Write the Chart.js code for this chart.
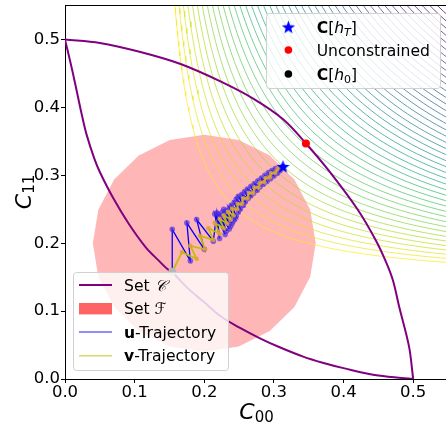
<!DOCTYPE html>
<html><head><meta charset="utf-8">
<script src="https://cdn.jsdelivr.net/npm/chart.js@4.4.0/dist/chart.umd.min.js"></script>
<style>
html,body{margin:0;padding:0;overflow:hidden;background:#fff;width:446px;height:427px}
#wrap{position:absolute;left:0;top:0;width:453px;height:427px}
</style>
</head><body><div id="wrap"><canvas id="c" width="453" height="427"></canvas></div>
<script>
// ---------------- data ----------------
const X_TICKS = [0, 0.1, 0.2, 0.3, 0.4, 0.5];
const Y_TICKS = [0, 0.1, 0.2, 0.3, 0.4, 0.5];
const X_RANGE = [0, 0.55];
const Y_RANGE = [0, 0.551];

// Set C : outer arc and inner boundary (two pieces meeting at C[h0])
const SET_C_OUTER = [[0,0.5],[0.05,0.495],[0.107,0.482],[0.166,0.464],[0.224,0.438],[0.272,0.412],[0.314,0.382],[0.346,0.347],[0.378,0.308],[0.42,0.25],[0.447,0.203],[0.462,0.17],[0.471,0.145],[0.48,0.106],[0.494,0.048],[0.5,0]];
const SET_C_INNER_UPPER = [[0,0.5],[0.007,0.47],[0.014,0.438],[0.024,0.39],[0.031,0.36],[0.042,0.325],[0.05,0.305],[0.069,0.267],[0.092,0.228],[0.116,0.194],[0.135,0.174],[0.147,0.162],[0.154,0.158]];
const SET_C_INNER_LOWER = [[0.154,0.158],[0.175,0.135],[0.2,0.113],[0.224,0.092],[0.25,0.076],[0.28,0.06],[0.31,0.046],[0.342,0.033],[0.37,0.024],[0.4,0.016],[0.45,0.005],[0.5,0]];

// Set F : disc (drawn as the 20-gon seen in the picture)
const F_CENTER = [0.2, 0.2];
const F_RADIUS = 0.16;
const F_SIDES = 20;

// trajectories
const U_TRAJ = [[0.154,0.158],[0.154,0.2205],[0.180,0.174],[0.175,0.230],[0.200,0.191],[0.189,0.235],[0.213,0.203],[0.218,0.245],[0.222,0.207],[0.215,0.243],[0.230,0.213],[0.220,0.243],[0.232,0.218],[0.224,0.240],[0.236,0.221],[0.226,0.246],[0.238,0.225],[0.229,0.243],[0.240,0.229],[0.228,0.250],[0.242,0.233],[0.232,0.248],[0.244,0.236],[0.236,0.252],
  [0.246,0.240],[0.239,0.256],[0.249,0.246],[0.243,0.260],[0.252,0.251],[0.246,0.265],[0.256,0.256],[0.249,0.269],[0.259,0.261],[0.254,0.272],[0.263,0.266],[0.258,0.276],[0.267,0.270],[0.262,0.280],[0.271,0.274],[0.267,0.284],[0.276,0.278],[0.272,0.288],[0.280,0.283],[0.277,0.292],[0.285,0.287],[0.282,0.296],[0.290,0.291],[0.287,0.300],[0.295,0.295],[0.292,0.304],[0.300,0.299],[0.297,0.307],[0.305,0.303],[0.302,0.310],[0.309,0.307],[0.313,0.313]];
const V_TRAJ = [[0.154,0.158],[0.168,0.187],[0.189,0.177],[0.180,0.196],[0.201,0.191],[0.194,0.211],[0.213,0.205],[0.206,0.222],[0.222,0.214],[0.215,0.230],[0.228,0.222],[0.222,0.236],[0.233,0.229],[0.228,0.241],[0.238,0.235],[0.234,0.246],
  [0.242,0.241],[0.240,0.251],[0.247,0.250],[0.248,0.258],[0.254,0.258],[0.256,0.266],[0.262,0.266],[0.264,0.274],[0.270,0.274],[0.272,0.282],[0.278,0.282],[0.280,0.289],[0.286,0.290],[0.288,0.296],[0.294,0.297],[0.296,0.303],[0.302,0.304],[0.305,0.309],[0.311,0.311]];

// special points
const C_HT = [0.313, 0.313];
const UNCONSTRAINED = [0.346, 0.347];
const C_H0 = [0.154, 0.158];

// objective contours: level sets (x - P)(y - Q) = t^2, one t per drawn level (outer -> inner)
const CONTOUR_ORIGIN = [0.125, 0.14];
const CONTOUR_LEVELS = [0.1160,0.1262,0.1359,0.1454,0.1545,0.1634,0.1720,0.1805,0.1887,0.1968,0.2047,0.2124,0.2201,0.2275,0.2349,0.2421,0.2493,0.2563,0.2633,0.2701,0.2769,0.2836,0.2902,0.2967,0.3032,0.3096,0.3159,0.3222,0.3284,0.3346,0.3406,0.3467,0.3527,0.3586,0.3645,0.3703,0.3761,0.3819,0.3876,0.3932,0.3989,0.4045,0.4100];

// ---------------- helpers ----------------
const FONT = 'DejaVu Sans';
const VIRIDIS = ['#440154','#482475','#414487','#355f8d','#2a788e','#21918c','#22a884','#44bf70','#7ad151','#bddf26','#fde725'];
function hex(h){return [parseInt(h.slice(1,3),16),parseInt(h.slice(3,5),16),parseInt(h.slice(5,7),16)];}
function viridis(t, a){
  t = Math.max(0, Math.min(1, t));
  const f = t*10, i = Math.min(9, Math.floor(f)), u = f - i;
  const c0 = hex(VIRIDIS[i]), c1 = hex(VIRIDIS[i+1]);
  const c = c0.map((v,k)=>Math.round(v + (c1[k]-v)*u));
  return `rgba(${c[0]},${c[1]},${c[2]},${a})`;
}
const pts = arr => arr.map(p => ({x:p[0], y:p[1]}));

// points of one level curve (x-P)(y-Q)=t^2, parametrised by s
function levelCurve(t, n){
  const out = [];
  for (let i = 0; i <= n; i++){
    const s = -1.7 + 3.4*i/n;
    out.push({x: CONTOUR_ORIGIN[0] + t*Math.exp(s), y: CONTOUR_ORIGIN[1] + t*Math.exp(-s)});
  }
  return out;
}

function makeStar(size, color){
  const c = document.createElement('canvas');
  c.width = c.height = size;
  const g = c.getContext('2d');
  const cx = size/2, cy = size/2 + 0.6, R = size/2 - 0.5, r = R*0.42;
  g.beginPath();
  for (let i = 0; i < 10; i++){
    const a = -Math.PI/2 + i*Math.PI/5, rr = (i%2) ? r : R;
    g.lineTo(cx + rr*Math.cos(a), cy + rr*Math.sin(a));
  }
  g.closePath(); g.fillStyle = color; g.fill();
  return c;
}
const STAR = makeStar(15, '#0000ff');

// ---------------- datasets ----------------
const datasets = [];
datasets.push({label:'Unconstrained', data:pts([UNCONSTRAINED]), pointRadius:4, pointBackgroundColor:'#ff0000', pointBorderWidth:0, showLine:false});
datasets.push({label:'C[hT]', data:pts([C_HT]), pointStyle:STAR, showLine:false});
datasets.push({label:'C[h0]', data:pts([C_H0]), pointRadius:4, pointBackgroundColor:'#b8b8b8', pointBorderWidth:0, showLine:false});
datasets.push({label:'v-Trajectory', data:pts(V_TRAJ), showLine:true, borderColor:'rgba(191,191,0,0.95)', borderWidth:1.8,
  pointRadius:2.4, pointBackgroundColor:'rgba(222,160,60,0.8)', pointBorderWidth:0, tension:0});
datasets.push({label:'u-Trajectory', data:pts(U_TRAJ), showLine:true, borderColor:'rgba(0,0,255,1)', borderWidth:1.3,
  pointRadius:2.8, pointBackgroundColor:'rgba(70,40,230,0.65)', pointBorderWidth:0, tension:0});
[SET_C_OUTER, SET_C_INNER_UPPER, SET_C_INNER_LOWER].forEach(seg => {
  datasets.push({label:'Set C', data:pts(seg), showLine:true, borderColor:'#800080', borderWidth:2, pointRadius:0, tension:0.35});
});
const NL = CONTOUR_LEVELS.length;
CONTOUR_LEVELS.forEach((t, i) => {
  datasets.push({label:'contour', data:levelCurve(t, 160), showLine:true,
    borderColor:viridis(1 - i/(NL-1), 0.72), borderWidth:1, pointRadius:0, tension:0});
});
const fPoly = [];
for (let i = 0; i <= F_SIDES; i++){
  const a = Math.PI/2 + 2*Math.PI*i/F_SIDES;
  fPoly.push({x: F_CENTER[0] + F_RADIUS*Math.cos(a), y: F_CENTER[1] + F_RADIUS*Math.sin(a)});
}
datasets.push({label:'Set F', data:fPoly, showLine:true, borderWidth:0, borderColor:'rgba(0,0,0,0)',
  backgroundColor:'rgba(255,110,110,0.5)', fill:'shape', pointRadius:0, tension:0});

// ---------------- custom drawing (axis titles, spine, legends) ----------------
function rich(ctx, parts, x, base){
  for (const p of parts){
    ctx.font = p.font;
    ctx.fillText(p.t, x, base + (p.dy || 0));
    x += ctx.measureText(p.t).width;
  }
  return x;
}
function richWidth(ctx, parts){
  let w = 0;
  for (const p of parts){ ctx.font = p.font; w += ctx.measureText(p.t).width; }
  return w;
}
function roundRect(ctx, x, y, w, h, r){
  ctx.beginPath();
  ctx.moveTo(x + r, y);
  ctx.arcTo(x + w, y, x + w, y + h, r);
  ctx.arcTo(x + w, y + h, x, y + h, r);
  ctx.arcTo(x, y + h, x, y, r);
  ctx.arcTo(x, y, x + w, y, r);
  ctx.closePath();
}
const LFS = 15.6;
const LF = `${LFS}px ${FONT}`, LFB = `bold ${LFS}px ${FONT}`, LFI = `italic ${LFS}px ${FONT}`, LFS_SUB = `11px ${FONT}`, LFS_SUBI = `italic 11px ${FONT}`;

const decor = {
  id: 'decor',
  afterDraw(chart){
    const ctx = chart.ctx, ca = chart.chartArea;
    ctx.save();
    ctx.fillStyle = '#000';
    ctx.textBaseline = 'alphabetic';
    ctx.textAlign = 'left';
    // top / right spines
    ctx.strokeStyle = '#000'; ctx.lineWidth = 1;
    ctx.beginPath(); ctx.moveTo(ca.left, Math.round(ca.top) + 0.5); ctx.lineTo(ca.right, Math.round(ca.top) + 0.5); ctx.stroke();
    ctx.beginPath(); ctx.moveTo(Math.round(ca.right) - 0.5, ca.top); ctx.lineTo(Math.round(ca.right) - 0.5, ca.bottom); ctx.stroke();

    // axis titles
    const xt = [{t:'C', font:`italic 22px ${FONT}`}, {t:'00', font:`15px ${FONT}`, dy:3}];
    const wx = richWidth(ctx, xt);
    rich(ctx, xt, (ca.left + ca.right)/2 - wx/2, 419);
    const yt = [{t:'C', font:`italic 22px ${FONT}`}, {t:'11', font:`15px ${FONT}`, dy:3}];
    const wy = richWidth(ctx, yt);
    ctx.save();
    ctx.translate(31, (ca.top + ca.bottom)/2);
    ctx.rotate(-Math.PI/2);
    rich(ctx, yt, -wy/2, 0);
    ctx.restore();

    // upper-right legend
    let bw = 174, bh = 75, bx = ca.right - 8 - bw, by = ca.top + 8;
    roundRect(ctx, bx + 0.5, by + 0.5, bw, bh, 3);
    ctx.fillStyle = 'rgba(255,255,255,0.8)'; ctx.fill();
    ctx.strokeStyle = '#d0d0d0'; ctx.lineWidth = 1; ctx.stroke();
    ctx.fillStyle = '#000';
    const mx = bx + 22.4, tx = bx + 50.7;
    const r1 = by + 14, r2 = by + 37, r3 = by + 61;
    ctx.drawImage(STAR, mx - STAR.width/2, r1 - STAR.height/2);
    ctx.beginPath(); ctx.arc(mx, r2, 3.8, 0, 2*Math.PI); ctx.fillStyle = '#ff0000'; ctx.fill();
    ctx.beginPath(); ctx.arc(mx, r3, 3.8, 0, 2*Math.PI); ctx.fillStyle = '#000'; ctx.fill();
    rich(ctx, [{t:'C', font:LFB},{t:'[', font:LF},{t:'h', font:LFI},{t:'T', font:LFS_SUBI, dy:3},{t:']', font:LF}], tx, r1 + 5.5);
    rich(ctx, [{t:'Unconstrained', font:LF}], tx, r2 + 5.5);
    rich(ctx, [{t:'C', font:LFB},{t:'[', font:LF},{t:'h', font:LFI},{t:'0', font:LFS_SUB, dy:3},{t:']', font:LF}], tx, r3 + 5.5);

    // lower-left legend
    bw = 155; bh = 98; bx = ca.left + 8; by = ca.bottom - 9 - bh;
    roundRect(ctx, bx + 0.5, by + 0.5, bw, bh, 3);
    ctx.fillStyle = 'rgba(255,255,255,0.8)'; ctx.fill();
    ctx.strokeStyle = '#d0d0d0'; ctx.lineWidth = 1; ctx.stroke();
    const hx0 = bx + 6, hx1 = bx + 39, tx2 = bx + 51;
    const rows = [by + 13, by + 36.7, by + 60, by + 83.7];
    ctx.lineWidth = 2; ctx.strokeStyle = '#800080';
    ctx.beginPath(); ctx.moveTo(hx0, rows[0]); ctx.lineTo(hx1, rows[0]); ctx.stroke();
    ctx.fillStyle = '#ff6464'; ctx.fillRect(hx0, rows[1] - 5.7, hx1 - hx0, 11.4);
    ctx.lineWidth = 1.5; ctx.strokeStyle = 'rgba(0,0,255,0.6)';
    ctx.beginPath(); ctx.moveTo(hx0, rows[2]); ctx.lineTo(hx1, rows[2]); ctx.stroke();
    ctx.strokeStyle = 'rgba(191,191,0,0.6)';
    ctx.beginPath(); ctx.moveTo(hx0, rows[3]); ctx.lineTo(hx1, rows[3]); ctx.stroke();
    ctx.fillStyle = '#000';
    rich(ctx, [{t:'Set ', font:LF},{t:'\u{1D49E}', font:LFI}], tx2, rows[0] + 5.5);
    rich(ctx, [{t:'Set ', font:LF},{t:'\u2131', font:LFI}], tx2, rows[1] + 5.5);
    rich(ctx, [{t:'u', font:LFB},{t:'-Trajectory', font:LF}], tx2, rows[2] + 5.5);
    rich(ctx, [{t:'v', font:LFB},{t:'-Trajectory', font:LF}], tx2, rows[3] + 5.5);
    ctx.restore();
  }
};

// ---------------- chart ----------------
Chart.defaults.font.family = FONT;
Chart.defaults.color = '#000';
const tickFont = {family: FONT, size: 16.5};
new Chart(document.getElementById('c'), {
  type: 'scatter',
  data: {datasets},
  options: {
    responsive: false, animation: false, devicePixelRatio: 1, events: [],
    layout: {padding: {top: 2, right: 1, bottom: 0, left: 0}},
    plugins: {legend: {display: false}, tooltip: {enabled: false}},
    scales: {
      x: {
        type: 'linear', min: X_RANGE[0], max: X_RANGE[1],
        afterBuildTicks: s => { s.ticks = X_TICKS.map(v => ({value: v})); },
        afterFit: s => { s.height = 48; s.paddingLeft = 0; s.paddingRight = 0; },
        ticks: {callback: v => v.toFixed(1), font: tickFont, color: '#000', padding: 0, maxRotation: 0, autoSkip: false},
        grid: {display: true, drawOnChartArea: false, drawTicks: true, tickLength: 4, color: '#000'},
        border: {display: true, color: '#000', width: 1}
      },
      y: {
        type: 'linear', min: Y_RANGE[0], max: Y_RANGE[1],
        afterBuildTicks: s => { s.ticks = Y_TICKS.map(v => ({value: v})); },
        afterFit: s => { s.width = 65; s.paddingTop = 0; s.paddingBottom = 0; },
        ticks: {callback: v => v.toFixed(1), font: tickFont, color: '#000', padding: 1, autoSkip: false},
        grid: {display: true, drawOnChartArea: false, drawTicks: true, tickLength: 4, color: '#000'},
        border: {display: true, color: '#000', width: 1}
      }
    }
  },
  plugins: [decor]
});
</script></body></html>
